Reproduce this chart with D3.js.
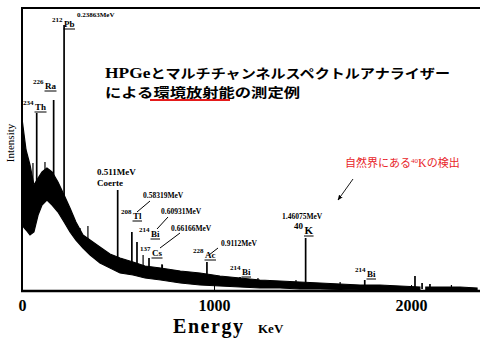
<!DOCTYPE html>
<html>
<head>
<meta charset="utf-8">
<script src="https://cdn.jsdelivr.net/npm/d3@7"></script>
<style>
  body { margin: 0; background: #fff; }
  svg { display: block; }
</style>
</head>
<body>
<div id="chart"></div>
<script>
// continuum band of the spectrum (energy keV, upper / lower edge of the noisy trace)
const contE      = [25, 46, 66, 86, 107, 127, 152, 178, 208, 239, 269, 299, 335, 371, 421, 472, 523, 589, 650, 729, 829, 929, 1030, 1132, 1233, 1335, 1436, 1538, 1640, 1741, 1842, 1944, 2045, 2060, 2075, 2147, 2249, 2335];
const contTop    = [1730, 1410, 1260, 1060, 1130, 1190, 1230, 1190, 1090, 960, 830, 690, 560, 510, 440, 370, 330, 290, 250, 230, 200, 180, 150, 130, 110, 100, 90, 80, 70, 60, 60, 50, 40, null, 40, 40, 40, 30];
const contBottom = [660, 610, 560, 590, 760, 860, 910, 860, 790, 690, 590, 510, 430, 360, 280, 230, 180, 160, 130, 110, 80, 60, 50, 40, 30, 30, 20, 20, 15, 10, 10, 10, 10, null, 10, 10, 10, 10];

// photo peaks
const peakE   = [100, 186, 239, 511, 583, 609, 670, 737, 964, 1132, 1465, 1765, 2020, 2056, 2096];
const peakTop = [1780, 1910, 2660, 1010, 590, 490, 330, 260, 290, 140, 530, 110, 150, 80, 70];

// small spikes riding on the continuum
const spikeE   = [81, 142, 320, 360, 437, 640, 736, 802, 1223, 1416, 1640, 2205];
const spikeTop = [1280, 1290, 630, 650, 390, 360, 270, 210, 130, 110, 90, 60];

const xTicks = [0, 1000, 2000];

const width = 480, height = 343;
const svg = d3.select("#chart").append("svg")
  .attr("width", width).attr("height", height);

const x = d3.scaleLinear().domain([0, 2350]).range([17, 480]);
const y = d3.scaleLinear().domain([0, 2830]).range([291, 8]);

const serif = "'Liberation Serif', 'DejaVu Serif', serif";
const jp = "'Noto Sans CJK JP', sans-serif";

// continuum
const cont = contE.map((e, i) => ({e: e, t: contTop[i], b: contBottom[i]}));
const contOk = cont.filter(d => d.t != null);
// upper edge of the band, used as foot of the peak lines
const base = d3.scaleLinear().domain(contOk.map(d => d.e)).range(contOk.map(d => d.t)).clamp(true);

svg.append("path")
  .datum(cont)
  .attr("d", d3.area()
    .defined(d => d.t != null)
    .x(d => x(d.e))
    .y0(d => y(d.b))
    .y1(d => y(d.t)))
  .attr("fill", "#000")
  .attr("stroke", "#000")
  .attr("stroke-width", 1.2);

// spikes
svg.selectAll(".spike")
  .data(spikeE.map((e, i) => ({e: e, t: spikeTop[i]})))
  .enter().append("line")
  .attr("x1", d => x(d.e)).attr("x2", d => x(d.e))
  .attr("y1", d => y(base(d.e)) + 2).attr("y2", d => y(d.t))
  .attr("stroke", "#000").attr("stroke-width", 1.2);

// peaks
svg.selectAll(".peak")
  .data(peakE.map((e, i) => ({e: e, t: peakTop[i]})))
  .enter().append("line")
  .attr("x1", d => x(d.e)).attr("x2", d => x(d.e))
  .attr("y1", d => y(base(d.e)) + 2).attr("y2", d => y(d.t))
  .attr("stroke", "#000").attr("stroke-width", 1.7);

// frame: top and left lines
svg.append("line").attr("x1", 22).attr("x2", 480).attr("y1", 8).attr("y2", 8)
  .attr("stroke", "#000").attr("stroke-width", 2);
svg.append("line").attr("x1", 22).attr("x2", 22).attr("y1", 7).attr("y2", 292)
  .attr("stroke", "#000").attr("stroke-width", 2);
svg.append("line").attr("x1", 21).attr("x2", 480).attr("y1", 291).attr("y2", 291)
  .attr("stroke", "#000").attr("stroke-width", 2.5);

// x axis
const xAxis = svg.append("g")
  .attr("transform", "translate(0,291)")
  .call(d3.axisBottom(x).tickValues(xTicks).tickSize(-6).tickSizeOuter(0).tickPadding(9).tickFormat(d3.format("d")));
xAxis.select(".domain").remove();
xAxis.selectAll(".tick line").attr("stroke", "#000").attr("stroke-width", 1)
  .attr("display", d => d === 0 ? "none" : null);
xAxis.selectAll(".tick text")
  .attr("font-family", serif).attr("font-weight", "bold").attr("font-size", 16).attr("fill", "#000")
  .attr("x", d => d === 0 ? 5 : 0);

svg.append("text").attr("x", 173).attr("y", 333)
  .attr("font-family", serif).attr("font-weight", "bold").attr("font-size", 20)
  .attr("textLength", 70).text("Energy");
svg.append("text").attr("x", 258).attr("y", 333)
  .attr("font-family", serif).attr("font-weight", "bold").attr("font-size", 13)
  .text("KeV");

svg.append("text")
  .attr("transform", "translate(14,143) rotate(-90)")
  .attr("text-anchor", "middle")
  .attr("font-family", serif).attr("font-size", 11)
  .text("Intensity");

// title
const t1 = svg.append("text").attr("x", 105).attr("y", 78)
  .attr("font-family", jp).attr("font-weight", "bold").attr("font-size", 13)
  .attr("textLength", 345).attr("lengthAdjust", "spacingAndGlyphs");
t1.append("tspan").attr("font-family", serif).attr("font-size", 15).text("HPGe");
t1.append("tspan").text("とマルチチャンネルスペクトルアナライザー");
svg.append("text").attr("x", 105).attr("y", 97)
  .attr("font-family", jp).attr("font-weight", "bold").attr("font-size", 13)
  .attr("textLength", 195).attr("lengthAdjust", "spacingAndGlyphs")
  .text("による環境放射能の測定例");
svg.append("line").attr("x1", 150).attr("x2", 230).attr("y1", 100).attr("y2", 100)
  .attr("stroke", "#e41a1a").attr("stroke-width", 2);

// nuclide labels: mass number raised, symbol underlined
const nuclides = [
  {m: "212", s: "Pb", x: 52, y: 22},
  {m: "226", s: "Ra", x: 33, y: 84},
  {m: "234", s: "Th", x: 23, y: 105},
  {m: "208", s: "Tl", x: 121, y: 214},
  {m: "214", s: "Bi", x: 139, y: 232},
  {m: "137", s: "Cs", x: 140, y: 251},
  {m: "228", s: "Ac", x: 193, y: 253},
  {m: "214", s: "Bi", x: 230, y: 270},
  {m: "40",  s: "K",  x: 294, y: 229},
  {m: "214", s: "Bi", x: 355, y: 272}
];
nuclides.forEach(n => {
  const g = svg.append("g").attr("font-family", serif).attr("font-weight", "bold");
  const tm = g.append("text").attr("x", n.x).attr("y", n.y)
    .attr("font-size", n.s === "K" ? 9 : 7).text(n.m);
  const mw = tm.node().getComputedTextLength();
  const ts = g.append("text").attr("x", n.x + mw + 1.5).attr("y", n.y + 5)
    .attr("font-size", n.s === "K" ? 11 : 9).text(n.s);
  const sw = ts.node().getComputedTextLength();
  g.append("line").attr("x1", n.x + mw + 1).attr("x2", n.x + mw + 2 + sw)
    .attr("y1", n.y + 7).attr("y2", n.y + 7).attr("stroke", "#000").attr("stroke-width", 1);
});

// energy labels
const energyLabels = [
  {t: "0.23863MeV", x: 77, y: 17, s: 7},
  {t: "0.511MeV", x: 97, y: 175, s: 9},
  {t: "Coerte", x: 97, y: 186, s: 9},
  {t: "0.58319MeV", x: 143, y: 198, s: 7.5},
  {t: "0.60931MeV", x: 161, y: 214, s: 7.5},
  {t: "0.66166MeV", x: 171, y: 231, s: 7.5},
  {t: "0.9112MeV", x: 221, y: 246, s: 7.5},
  {t: "1.46075MeV", x: 282, y: 219, s: 7.5}
];
svg.selectAll(".elab").data(energyLabels).enter().append("text")
  .attr("x", d => d.x).attr("y", d => d.y)
  .attr("font-family", serif).attr("font-weight", "bold")
  .attr("font-size", d => d.s).text(d => d.t);

// pointer lines from labels to nuclides
const pointers = [
  [150, 201, 137, 212],
  [168, 217, 157, 229],
  [180, 233, 160, 248],
  [218, 248, 209, 255]
];
svg.selectAll(".ptr").data(pointers).enter().append("line")
  .attr("x1", d => d[0]).attr("y1", d => d[1]).attr("x2", d => d[2]).attr("y2", d => d[3])
  .attr("stroke", "#000").attr("stroke-width", 1);

// red note and arrow
const note = svg.append("text").attr("x", 345).attr("y", 167)
  .attr("font-family", jp).attr("font-size", 11).attr("fill", "#e8262a");
note.append("tspan").text("自然界にある");
note.append("tspan").attr("font-size", 7).attr("dy", -4).attr("font-family", serif).text("40");
note.append("tspan").attr("dy", 4).attr("font-family", serif).attr("font-size", 12).text("K");
note.append("tspan").text("の検出");

svg.append("defs").append("marker")
  .attr("id", "ah").attr("viewBox", "0 0 10 10").attr("refX", 9).attr("refY", 5)
  .attr("markerWidth", 6).attr("markerHeight", 6).attr("orient", "auto")
  .append("path").attr("d", "M0,1 L10,5 L0,9 Z").attr("fill", "#000");
svg.append("line").attr("x1", 353).attr("y1", 179).attr("x2", 338).attr("y2", 200)
  .attr("stroke", "#000").attr("stroke-width", 0.9).attr("marker-end", "url(#ah)");
</script>
</body>
</html>
